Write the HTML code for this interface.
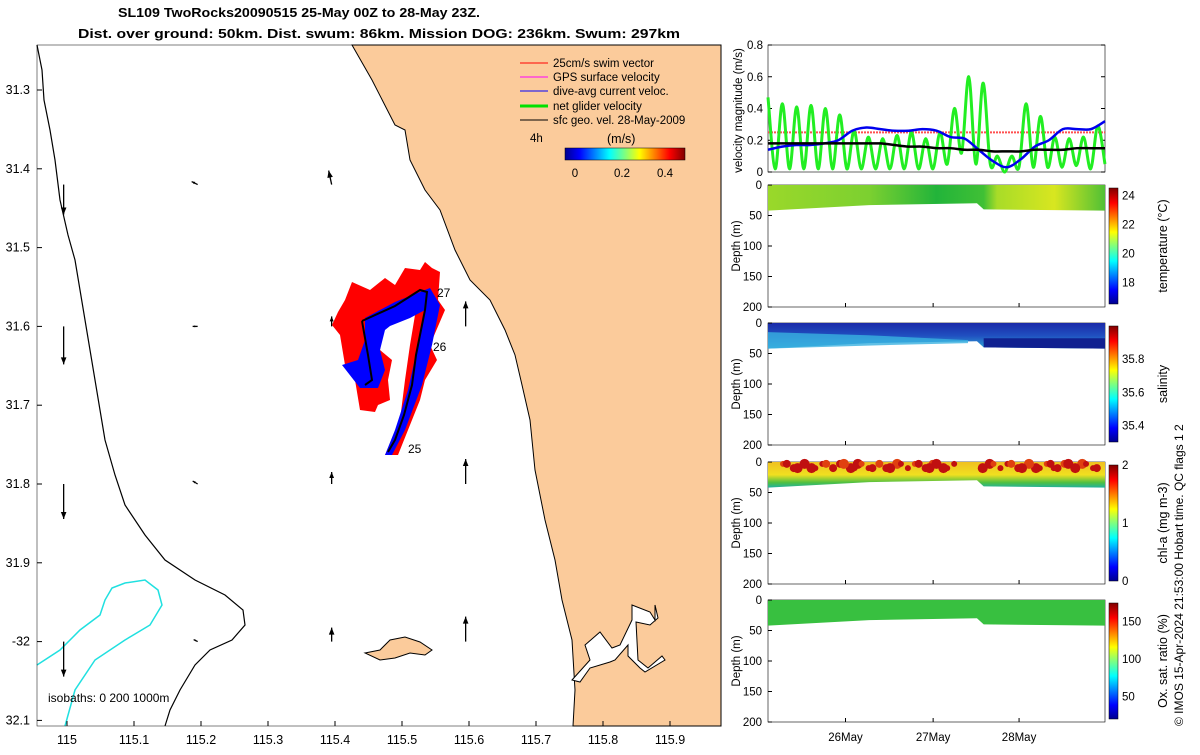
<!DOCTYPE html>
<html><head><meta charset="utf-8"><style>
body{margin:0;background:#fff;width:1200px;height:750px;overflow:hidden;font-family:"Liberation Sans",sans-serif}
svg text{font-family:"Liberation Sans",sans-serif}
</style></head><body>
<svg id="fig" width="1200" height="750" xmlns="http://www.w3.org/2000/svg">
<defs>
<linearGradient id="jet" x1="0" x2="1" y1="0" y2="0">
<stop offset="0" stop-color="#00008f"/><stop offset="0.12" stop-color="#0000ff"/><stop offset="0.37" stop-color="#00ffff"/><stop offset="0.5" stop-color="#7fff7f"/><stop offset="0.62" stop-color="#ffff00"/><stop offset="0.87" stop-color="#ff0000"/><stop offset="1" stop-color="#800000"/></linearGradient>
<linearGradient id="jetv" x1="0" x2="0" y1="1" y2="0">
<stop offset="0" stop-color="#00008f"/><stop offset="0.12" stop-color="#0000ff"/><stop offset="0.37" stop-color="#00ffff"/><stop offset="0.5" stop-color="#7fff7f"/><stop offset="0.62" stop-color="#ffff00"/><stop offset="0.87" stop-color="#ff0000"/><stop offset="1" stop-color="#800000"/></linearGradient>
<linearGradient id="tgrad" x1="0" x2="1"><stop offset="0" stop-color="#9ad82a"/><stop offset="0.3" stop-color="#7cd030"/><stop offset="0.5" stop-color="#22b43a"/><stop offset="0.64" stop-color="#40c035"/><stop offset="0.68" stop-color="#a8dc28"/><stop offset="0.85" stop-color="#d8e620"/><stop offset="1" stop-color="#50c035"/></linearGradient>
<linearGradient id="sgrad" x1="0" x2="0" y1="0" y2="1"><stop offset="0" stop-color="#1a2aa8"/><stop offset="0.5" stop-color="#2050c0"/><stop offset="1" stop-color="#30a8d8"/></linearGradient>
<linearGradient id="cgrad" x1="0" x2="0" y1="0" y2="1"><stop offset="0" stop-color="#f0c020"/><stop offset="0.5" stop-color="#f0e020"/><stop offset="0.8" stop-color="#50c040"/><stop offset="1" stop-color="#20b0a0"/></linearGradient>
</defs>

<text x="118" y="17" font-size="13" font-weight="bold" textLength="362" lengthAdjust="spacingAndGlyphs">SL109 TwoRocks20090515 25-May 00Z to 28-May 23Z.</text>
<text x="78" y="38" font-size="13" font-weight="bold" textLength="602" lengthAdjust="spacingAndGlyphs">Dist. over ground: 50km. Dist. swum: 86km. Mission DOG: 236km. Swum: 297km</text>

<g id="map">
<rect x="37" y="45" width="684" height="681" fill="#fff"/>
<path fill="#fbcb9b" stroke="#000" stroke-width="1" d="M352,45 L372,80 L395,125 L405,130 L410,160 L425,190 L440,210 L455,250 L470,280 L490,300 L505,330 L515,355 L522,385 L530,420 L535,470 L545,520 L555,560 L562,600 L572,640 L575,690 L573,726 L721,726 L721,45 Z"/>
<path fill="#fff" stroke="#000" stroke-width="1" d="M572,680 L590,660 L585,645 L600,632 L612,648 L620,645 L632,620 L632,605 L650,612 L655,620 L655,605 L658,618 L650,625 L636,622 L638,660 L648,668 L662,656 L665,660 L645,672 L640,668 L628,656 L628,645 L615,660 L610,662 L590,668 L580,682 Z"/>
<path fill="#fbcb9b" stroke="#000" stroke-width="1" d="M365,653 L380,650 L390,640 L405,637 L420,642 L432,650 L425,655 L410,653 L395,658 L380,660 Z"/>
<path fill="none" stroke="#000" stroke-width="1.2" d="M37,45 L42,70 L44,100 L50,130 L55,160 L60,200 L68,235 L75,260 L80,290 L85,320 L90,350 L95,380 L100,410 L105,440 L115,475 L125,505 L145,535 L165,560 L195,580 L225,595 L243,610 L245,625 L232,640 L210,650 L195,665 L180,690 L170,710 L165,726"/>
<path fill="none" stroke="#20e0e0" stroke-width="1.5" d="M37,665 L60,650 L80,630 L100,615 L105,600 L112,588 L125,583 L145,580 L158,590 L162,605 L150,625 L125,640 L95,660 L75,690 L65,726"/>
<g id="arrows"></g>
<g id="track">
<path fill="#ff0000" d="M345,300 L352,282 L370,290 L385,278 L395,285 L405,268 L420,270 L425,262 L432,268 L440,272 L438,300 L445,310 L430,345 L437,360 L425,380 L420,400 L412,420 L398,455 L385,455 L400,420 L405,380 L410,345 L415,315 L400,310 L385,315 L380,350 L392,360 L388,380 L390,400 L378,405 L375,412 L360,410 L355,380 L345,365 L340,335 L332,325 L338,312 Z"/>
<path fill="#0000ff" d="M365,318 L395,302 L430,288 L440,305 L432,345 L422,385 L405,430 L392,455 L385,455 L395,430 L408,390 L418,345 L425,310 L410,318 L390,326 L385,330 L380,350 L385,370 L378,388 L360,388 L342,365 L358,360 L365,340 Z"/>
<path fill="none" stroke="#000" stroke-width="2" d="M362,321 L395,306 L420,290 L427,292 L425,310 L420,335 L416,355 L412,385 L404,415 L395,440 L388,452 M362,321 L368,355 L372,380 L365,385"/>
<text x="437" y="297" font-size="12">27</text><text x="433" y="351" font-size="12">26</text><text x="408" y="453" font-size="12">25</text>
</g>
<rect x="37" y="45" width="684" height="681" fill="none" stroke="#000" stroke-width="0.5"/>
<text x="48" y="702" font-size="12">isobaths: 0   200  1000m</text>
<g id="maplegend" font-size="11.5">
<line x1="520" y1="63" x2="548" y2="63" stroke="#ff0000"/><text x="553" y="67">25cm/s swim vector</text>
<line x1="520" y1="77" x2="548" y2="77" stroke="#ff00ff"/><text x="553" y="81">GPS surface velocity</text>
<line x1="520" y1="91" x2="548" y2="91" stroke="#0000ff"/><text x="553" y="95">dive-avg current veloc.</text>
<line x1="520" y1="106" x2="548" y2="106" stroke="#00e000" stroke-width="3"/><text x="553" y="110">net glider velocity</text>
<line x1="520" y1="120" x2="548" y2="120" stroke="#000"/><text x="553" y="124">sfc geo. vel. 28-May-2009</text>
<text x="530" y="142">4h</text><text x="607" y="143" font-size="12.5">(m/s)</text>
<rect x="565" y="148" width="120" height="12" fill="url(#jet)" stroke="#000" stroke-width="0.5"/>
<text x="575" y="177" text-anchor="middle">0</text><text x="622" y="177" text-anchor="middle">0.2</text><text x="665" y="177" text-anchor="middle">0.4</text>
</g>
<g id="mapaxes" font-size="12.5"></g>
</g>

<g id="vel"></g>
<g id="depths"></g>
<text transform="translate(1183,726) rotate(-90)" font-size="12">© IMOS 15-Apr-2024 21:53:00 Hobart time. QC flags 1  2</text>
</svg>
<script>
const NS="http://www.w3.org/2000/svg";
function mk(tag,attrs,parent){const e=document.createElementNS(NS,tag);for(const k in attrs)e.setAttribute(k,attrs[k]);parent.appendChild(e);return e;}

// ---- map axes ----
const lonTicks=[115,115.1,115.2,115.3,115.4,115.5,115.6,115.7,115.8,115.9];
const latTicks=[31.3,31.4,31.5,31.6,31.7,31.8,31.9,32,32.1];
const latLabels=["31.3","31.4","31.5","31.6","31.7","31.8","31.9","-32","32.1"];
const lonX=v=>67+(v-115)*670;
const latY=v=>90+(v-31.3)*788;
const ma=document.getElementById('mapaxes');
lonTicks.forEach(v=>{const t=mk('text',{x:lonX(v),y:744,'text-anchor':'middle'},ma);t.textContent=String(v);


mk('line',{x1:lonX(v),x2:lonX(v),y1:726,y2:721,stroke:'#000'},ma);});
latTicks.forEach((v,i)=>{const t=mk('text',{x:30,y:latY(v)+4,'text-anchor':'end'},ma);t.textContent=latLabels[i];


mk('line',{x1:37,x2:42,y1:latY(v),y2:latY(v),stroke:'#000'},ma);});

// geostrophic arrows: lon, lat, dx, dy (px)
const arrLon=[114.995,115.195,115.395,115.595];
const arrLat=[31.42,31.6,31.8,32.0];
const arrDx=[[0,-6,-3,0],[0,-5,0,0],[0,-5,0,0],[0,-4,0,0]];
const arrDy=[[30,-3,-14,0],[38,0,-10,-25],[35,-3,-12,-25],[35,-2,-14,-25]];
const ag=document.getElementById('arrows');
arrLat.forEach((la,j)=>arrLon.forEach((lo,i)=>{
 const x=lonX(lo),y=latY(la),dx=arrDx[j][i],dy=arrDy[j][i];
 if(j===0&&i===3)return;
 const L=Math.hypot(dx,dy)||1;
 const g=mk('g',{},ag);
 
 
 const x2=x+dx,y2=y+dy;
 mk('line',{x1:x,y1:y,x2:x2,y2:y2,stroke:'#000','stroke-width':1.3},g);
 const ux=dx/L,uy=dy/L,h=Math.min(7,L*0.5);
 mk('path',{d:`M${x2},${y2} L${x2-ux*h-uy*h*0.4},${y2-uy*h+ux*h*0.4} L${x2-ux*h+uy*h*0.4},${y2-uy*h-ux*h*0.4}Z`,fill:'#000'},g);
}));

// ---- velocity panel ----
const greenVals=[0.47,0.02,0.43,0.02,0.41,0.02,0.42,0.02,0.40,0.02,0.36,0.02,0.26,0.02,0.22,0.02,0.21,0.02,0.23,0.02,0.25,0.02,0.21,0.02,0.25,0.05,0.40,0.12,0.60,0.05,0.56,0.05,0.10,0.0,0.10,0.03,0.43,0.03,0.35,0.03,0.22,0.03,0.21,0.04,0.22,0.02,0.29,0.05];
const blueVals=[0.14,0.16,0.17,0.17,0.18,0.20,0.26,0.28,0.27,0.26,0.26,0.27,0.26,0.22,0.21,0.14,0.07,0.03,0.08,0.16,0.20,0.27,0.27,0.27,0.32];
const blackVals=[0.18,0.18,0.18,0.18,0.18,0.18,0.18,0.18,0.18,0.17,0.16,0.16,0.15,0.15,0.14,0.14,0.13,0.13,0.13,0.14,0.14,0.14,0.15,0.15,0.15];
const redVals=[0.25,0.25];
const velTicks=[0,0.2,0.4,0.6,0.8];
const VX0=768,VX1=1105,VY0=45,VY1=172;
const vy=v=>VY1-v/0.8*(VY1-VY0);
const vx=(i,n)=>VX0+i/(n-1)*(VX1-VX0);
const vel=document.getElementById('vel');
function smooth(vals){const p=vals.map((v,i)=>[vx(i,vals.length),vy(v)]);let d=`M${p[0][0]},${p[0][1]}`;
for(let i=0;i<p.length-1;i++){const p0=p[Math.max(0,i-1)],p1=p[i],p2=p[i+1],p3=p[Math.min(p.length-1,i+2)];
d+=` C${p1[0]+(p2[0]-p0[0])/6},${p1[1]+(p2[1]-p0[1])/6} ${p2[0]-(p3[0]-p1[0])/6},${p2[1]-(p3[1]-p1[1])/6} ${p2[0]},${p2[1]}`;}return d;}
mk('rect',{x:VX0,y:VY0,width:VX1-VX0,height:VY1-VY0,fill:'#fff',stroke:'#000','stroke-width':0.6},vel);
velTicks.forEach(v=>{const t=mk('text',{x:VX0-5,y:vy(v)+4,'text-anchor':'end','font-size':11.5},vel);t.textContent=String(v);


mk('line',{x1:VX0,x2:VX0+4,y1:vy(v),y2:vy(v),stroke:'#000'},vel);mk('line',{x1:VX1,x2:VX1-4,y1:vy(v),y2:vy(v),stroke:'#000'},vel);});
const rl=mk('line',{x1:VX0,x2:VX1,y1:vy(redVals[0]),y2:vy(redVals[1]),stroke:'#ff5050','stroke-width':2,'stroke-dasharray':'2,1'},vel);


const gl=mk('path',{d:smooth(greenVals),fill:'none',stroke:'#22ee22','stroke-width':3},vel);


const bl=mk('path',{d:smooth(blueVals),fill:'none',stroke:'#0000ee','stroke-width':2.5},vel);


const kl=mk('path',{d:smooth(blackVals),fill:'none',stroke:'#000','stroke-width':2.5},vel);


const vt=mk('text',{transform:`translate(742,${(VY0+VY1)/2+2}) rotate(-90)`,'text-anchor':'middle','font-size':11.5},vel);vt.textContent='velocity magnitude (m/s)';



// ---- depth panels ----
const panelTops=[185,323,462,600];
const panelNames=['temperature-panel','salinity-panel','chl-a-panel','oxygen-panel'];
const cbTitles=['temperature (°C)','salinity','chl-a (mg m-3)','Ox. sat. ratio (%)'];
const cbTicks=[[18,20,22,24],[35.4,35.6,35.8],[0,1,2],[50,100,150]];
const cbRange=[[16.5,24.5],[35.3,36.0],[0,2],[20,175]];
const fills=['url(#tgrad)','url(#sgrad)','url(#cgrad)','#38c040'];
const depthTicks=[0,50,100,150,200];
const dateTicks=['26May','27May','28May'];
const dateFrac=[0.23,0.49,0.745];
const PH=122;
const dp=document.getElementById('depths');
panelTops.forEach((top,k)=>{
 const g=mk('g',{},dp);
 
 
 const dy=d=>top+d/200*PH;
 mk('rect',{x:VX0,y:top,width:VX1-VX0,height:PH,fill:'#fff',stroke:'#000','stroke-width':0.6},g);
 const band=`M${VX0},${dy(0)} L${VX1},${dy(0)} L${VX1},${dy(42)} L${VX0+0.64*(VX1-VX0)},${dy(40)} L${VX0+0.62*(VX1-VX0)},${dy(30)} L${VX0+0.3*(VX1-VX0)},${dy(33)} L${VX0},${dy(42)} Z`;
 mk('path',{d:band,fill:fills[k]},g);
 if(k===1){mk('path',{d:`M${VX0},${dy(15)} L${VX0+100},${dy(20)} L${VX0+200},${dy(28)} L${VX0+200},${dy(33)} L${VX0+100},${dy(37)} L${VX0},${dy(42)}Z`,fill:'#38b0e0',opacity:0.8},g);
  mk('path',{d:`M${VX0+0.64*(VX1-VX0)},${dy(25)} L${VX1},${dy(25)} L${VX1},${dy(42)} L${VX0+0.64*(VX1-VX0)},${dy(40)}Z`,fill:'#102090'},g);}
 if(k===2){for(let i=0;i<60;i++){const f=(i*0.618)%1; if(f>0.55&&f<0.62)continue;
  mk('circle',{cx:VX0+15+f*(VX1-VX0-20),cy:dy(3+(i*7)%14),r:3+(i%3),fill:i%4?'#c01010':'#e04010'},g);}}
 depthTicks.forEach(v=>{const t=mk('text',{x:VX0-6,y:dy(v)+4,'text-anchor':'end','font-size':11.5},g);t.textContent=String(v);
  
  
  mk('line',{x1:VX0,x2:VX0+4,y1:dy(v),y2:dy(v),stroke:'#000'},g);});
 dateFrac.forEach(f=>{const x=VX0+f*(VX1-VX0);mk('line',{x1:x,x2:x,y1:top+PH,y2:top+PH-4,stroke:'#000'},g);});
 const yt=mk('text',{transform:`translate(740,${top+PH/2}) rotate(-90)`,'text-anchor':'middle','font-size':11.5},g);yt.textContent='Depth (m)';
 
 
 const cb=mk('rect',{x:1109,y:top+3,width:9,height:PH-6,fill:'url(#jetv)',stroke:'#000','stroke-width':0.5},g);
 
 
 const [lo,hi]=cbRange[k];
 cbTicks[k].forEach(v=>{const y=top+3+(PH-6)*(1-(v-lo)/(hi-lo));const t=mk('text',{x:1122,y:y+4,'font-size':11.5},g);t.textContent=String(v);
  
  });
 const ct=mk('text',{transform:`translate(1167,${top+PH/2}) rotate(-90)`,'text-anchor':'middle','font-size':12.5},g);ct.textContent=cbTitles[k];
 
 
});
dateTicks.forEach((d,i)=>{const t=mk('text',{x:VX0+dateFrac[i]*(VX1-VX0),y:741,'text-anchor':'middle','font-size':11.5},dp);t.textContent=d;
 
 });
</script>
</body></html>
